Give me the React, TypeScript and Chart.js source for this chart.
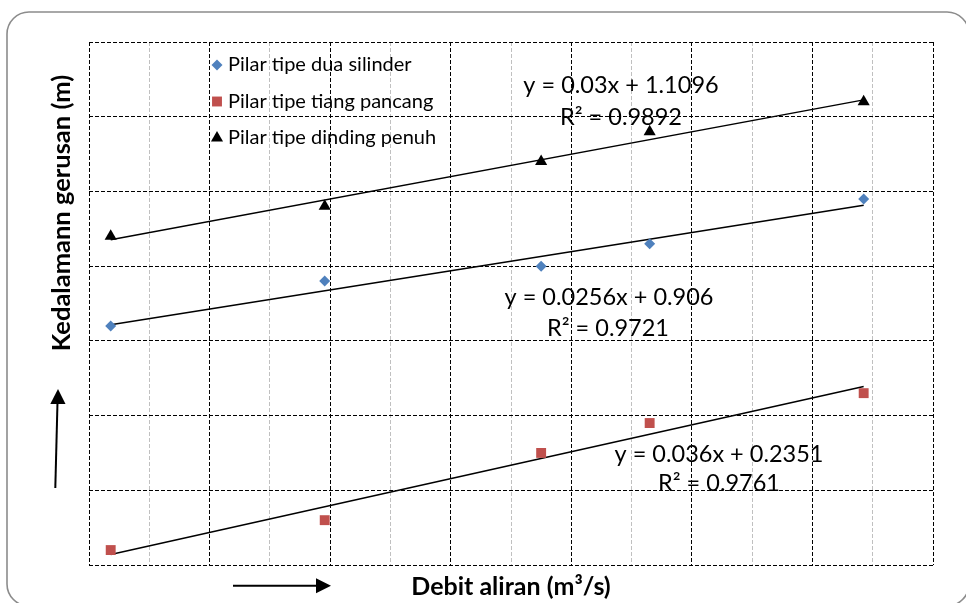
import { useEffect, useRef } from "react";
import { Chart, registerables } from "chart.js";

Chart.register(...registerables);

// ---- data ----
const debit = [5.36, 8.91, 12.5, 14.3, 17.85];
const duaSilinder = [1.04, 1.16, 1.2, 1.26, 1.38];
const tiangPancang = [0.44, 0.52, 0.7, 0.78, 0.86];
const dindingPenuh = [1.28, 1.36, 1.48, 1.56, 1.64];
const seriesLabels = [
  "Pilar tipe dua silinder",
  "Pilar tipe tiang pancang",
  "Pilar tipe dinding penuh",
];
const trendSlopes = [0.0256, 0.036, 0.03];
const trendIntercepts = [0.906, 0.2351, 1.1096];
const trendEquations = ["y = 0.0256x + 0.906", "y = 0.036x + 0.2351", "y = 0.03x + 1.1096"];
const trendR2 = ["R² = 0.9721", "R² = 0.9761", "R² = 0.9892"];
const xTitle = "Debit aliran (m³/s)";
const yTitle = "Kedalamann gerusan (m)";

const FONT = "Lato, 'Open Sans', sans-serif";

function marker(ctx: CanvasRenderingContext2D, style: string, r: number, x: number, y: number) {
  ctx.beginPath();
  if (style === "rectRot") {
    ctx.moveTo(x - r, y);
    ctx.lineTo(x, y - r);
    ctx.lineTo(x + r, y);
    ctx.lineTo(x, y + r);
  } else if (style === "rect") {
    const s = Math.SQRT1_2 * r;
    ctx.rect(x - s, y - s, 2 * s, 2 * s);
  } else {
    const a = (2 * Math.PI) / 3;
    ctx.moveTo(x, y - r);
    ctx.lineTo(x + Math.sin(a) * r, y - Math.cos(a) * r);
    ctx.lineTo(x + Math.sin(2 * a) * r, y - Math.cos(2 * a) * r);
  }
  ctx.closePath();
  ctx.fill();
}

export default function App() {
  const ref = useRef<HTMLCanvasElement | null>(null);

  useEffect(() => {
    document.body.style.margin = "0";
    const canvas = ref.current;
    if (!canvas) return;

    const colors = ["#4F81BD", "#C0504D", "#000000"];
    const styles = ["rectRot", "rect", "triangle"];
    const radii = [5.5, 7, 7];
    const series = [duaSilinder, tiangPancang, dindingPenuh];

    const scatterSets = series.map((vals, i) => ({
      type: "scatter" as const,
      label: seriesLabels[i],
      data: debit.map((x, j) => ({ x, y: vals[j] })),
      backgroundColor: colors[i],
      borderColor: colors[i],
      borderWidth: 0,
      pointStyle: styles[i],
      pointRadius: radii[i],
      pointHoverRadius: radii[i],
      showLine: false,
      order: 1,
    }));

    const xFirst = debit[0];
    const xLast = debit[debit.length - 1];
    const trendSets = trendSlopes.map((m, i) => ({
      type: "line" as const,
      label: "trend" + i,
      data: [
        { x: xFirst, y: m * xFirst + trendIntercepts[i] },
        { x: xLast, y: m * xLast + trendIntercepts[i] },
      ],
      borderColor: "#000000",
      borderWidth: 1.5,
      pointRadius: 0,
      fill: false,
      order: 2,
    }));

    const decorPlugin = {
      id: "decor",
      afterDraw(chart: any) {
        const ctx = chart.ctx as CanvasRenderingContext2D;
        ctx.save();
        // outer rounded frame
        ctx.strokeStyle = "#8c8c8c";
        ctx.lineWidth = 1.6;
        ctx.beginPath();
        (ctx as any).roundRect(7, 12, 962, 594, 22);
        ctx.stroke();

        // legend
        ctx.font = `20px ${FONT}`;
        ctx.textBaseline = "middle";
        ctx.textAlign = "left";
        const legY = [65, 101.5, 138];
        for (let i = 0; i < 3; i++) {
          const ds = chart.data.datasets[i];
          ctx.fillStyle = ds.backgroundColor;
          marker(ctx, ds.pointStyle, ds.pointRadius, 217, legY[i]);
          ctx.fillStyle = "#000";
          ctx.fillText(ds.label, 228, legY[i]);
        }

        // trendline equations
        ctx.font = `23.5px ${FONT}`;
        ctx.textAlign = "center";
        const eqPos = [
          [609, 297, 608, 328],
          [719, 454, 719, 483],
          [621, 85, 621, 117],
        ];
        for (let i = 0; i < 3; i++) {
          const p = eqPos[i];
          ctx.fillText(trendEquations[i], p[0], p[1]);
          ctx.fillText(trendR2[i], p[2], p[3]);
        }

        // axis titles
        ctx.font = `bold 25px ${FONT}`;
        ctx.fillText(xTitle, 511, 587);
        ctx.save();
        ctx.font = `bold 25.5px ${FONT}`;
        ctx.translate(62, 213);
        ctx.rotate(-Math.PI / 2);
        ctx.fillText(yTitle, 0, 0);
        ctx.restore();

        // arrows
        ctx.strokeStyle = "#000";
        ctx.fillStyle = "#000";
        ctx.lineWidth = 2;
        ctx.beginPath();
        ctx.moveTo(55.3, 488);
        ctx.lineTo(57.5, 402);
        ctx.stroke();
        ctx.beginPath();
        ctx.moveTo(58, 389);
        ctx.lineTo(65.5, 404);
        ctx.lineTo(50.3, 404);
        ctx.closePath();
        ctx.fill();

        ctx.beginPath();
        ctx.moveTo(233, 585.7);
        ctx.lineTo(318, 585.7);
        ctx.stroke();
        ctx.beginPath();
        ctx.moveTo(331, 585.7);
        ctx.lineTo(316, 578.3);
        ctx.lineTo(316, 593.3);
        ctx.closePath();
        ctx.fill();
        ctx.restore();
      },
    };

    const chart = new Chart(canvas, {
      type: "scatter",
      data: { datasets: [...scatterSets, ...trendSets] as any },
      options: {
        animation: false,
        responsive: false,
        events: [],
        layout: { padding: { left: 89, top: 42, right: 33, bottom: 38 } },
        plugins: { legend: { display: false }, tooltip: { enabled: false } },
        scales: {
          x: {
            type: "linear",
            min: 5,
            max: 19,
            ticks: { display: false, stepSize: 1 },
            grid: {
              drawTicks: false,
              lineWidth: 1,
              color: (c: any) => (Math.round(c.tick.value - 5) % 2 === 0 ? "#000000" : "#c0c0c0"),
            },
            border: { display: false, dash: [4, 2] },
          },
          y: {
            type: "linear",
            min: 0.4,
            max: 1.8,
            ticks: { display: false, stepSize: 0.2 },
            grid: { drawTicks: false, lineWidth: 1, color: "#000000" },
            border: { display: false, dash: [4, 2] },
          },
        },
      },
      plugins: [decorPlugin],
    });

    return () => chart.destroy();
  }, []);

  return <canvas ref={ref} width={966} height={603} style={{ display: "block" }} />;
}
